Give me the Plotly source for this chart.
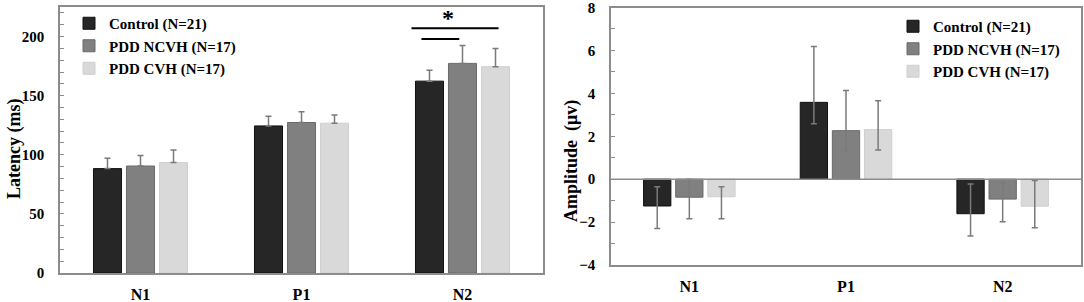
import plotly.graph_objects as go

categories = ["N1", "P1", "N2"]
groups = ["Control (N=21)", "PDD NCVH (N=17)", "PDD CVH (N=17)"]
colors = ["#262626", "#808080", "#d9d9d9"]
edges = ["#111111", "#6a6a6a", "#cfcfcf"]

# Latency (ms)
lat_control = [88.3, 124.4, 162.3]
lat_ncvh = [90.5, 127.3, 177.3]
lat_cvh = [93.4, 126.7, 174.5]
lat_err_control = [8.7, 8.2, 9.3]
lat_err_ncvh = [8.8, 9.0, 15.2]
lat_err_cvh = [10.6, 7.0, 15.5]

# Amplitude (uV)
amp_control = [-1.25, 3.58, -1.61]
amp_ncvh = [-0.84, 2.26, -0.93]
amp_cvh = [-0.82, 2.31, -1.26]
amp_up_control = [0.9, 2.6, 1.39]
amp_dn_control = [1.05, 1.0, 1.04]
amp_up_ncvh = [0.84, 1.87, 0.76]
amp_dn_ncvh = [1.01, 0.94, 1.05]
amp_up_cvh = [0.47, 1.35, 1.2]
amp_dn_cvh = [1.03, 0.95, 1.0]

lat_vals = [lat_control, lat_ncvh, lat_cvh]
lat_errs = [lat_err_control, lat_err_ncvh, lat_err_cvh]
amp_vals = [amp_control, amp_ncvh, amp_cvh]
amp_up = [amp_up_control, amp_up_ncvh, amp_up_cvh]
amp_dn = [amp_dn_control, amp_dn_ncvh, amp_dn_cvh]

FONT = "Liberation Serif"
ERRC = "#7a7a7a"
AXC = "#8c8c8c"

fig = go.Figure()
for i in range(3):
    fig.add_trace(go.Bar(
        x=categories, y=lat_vals[i], name=groups[i],
        marker=dict(color=colors[i], line=dict(color=edges[i], width=1)),
        error_y=dict(type="data", array=lat_errs[i], arrayminus=[0, 0, 0],
                     color=ERRC, thickness=1.5, width=3),
        xaxis="x", yaxis="y", legend="legend", showlegend=True,
    ))
for i in range(3):
    fig.add_trace(go.Bar(
        x=categories, y=amp_vals[i], name=groups[i],
        marker=dict(color=colors[i], line=dict(color=edges[i], width=1)),
        error_y=dict(type="data", array=amp_up[i], arrayminus=amp_dn[i],
                     color=ERRC, thickness=1.5, width=3),
        xaxis="x2", yaxis="y2", legend="legend2", showlegend=True,
    ))

W, H = 1084, 302
axis_common = dict(showline=True, linecolor=AXC, linewidth=1.5, mirror=True,
                   showgrid=False, zeroline=False, automargin=False,
                   ticklabeloverflow="allow")
ytick_font = dict(family=FONT, size=15, color="black", weight="bold")
xtick_font = dict(family=FONT, size=16, color="black", weight="bold")
title_font = dict(family=FONT, size=18, color="black", weight="bold")
legend_font = dict(family=FONT, size=15, color="black", weight="bold")

fig.update_layout(
    template="none",
    width=W, height=H,
    margin=dict(l=0, r=0, t=0, b=0, autoexpand=False),
    paper_bgcolor="white", plot_bgcolor="white",
    barmode="group", bargap=0.385, bargroupgap=0.15,
    font=dict(family=FONT, size=16, color="black"),
    xaxis=dict(domain=[60 / W, 543 / W], anchor="y", ticks="",
               ticklabelstandoff=6, tickfont=xtick_font, **axis_common),
    yaxis=dict(domain=[(H - 273) / H, (H - 7) / H], anchor="x", range=[0, 225],
               tickvals=[0, 50, 100, 150, 200], ticks="inside", ticklen=4,
               tickcolor=AXC, ticklabelstandoff=11, tickfont=ytick_font,
               minor=dict(dtick=10, ticks="inside", ticklen=4, tickcolor=AXC),
               **axis_common),
    xaxis2=dict(domain=[611 / W, 1081 / W], anchor="y2", ticks="",
                ticklabelstandoff=6, tickfont=xtick_font, **axis_common),
    yaxis2=dict(domain=[(H - 265) / H, (H - 7.5) / H], anchor="x2", range=[-4, 8],
                tickvals=[-4, -2, 0, 2, 4, 6, 8], ticks="inside", ticklen=4,
                tickcolor=AXC, ticklabelstandoff=11, tickfont=ytick_font,
                minor=dict(dtick=1, ticks="inside", ticklen=4, tickcolor=AXC),
                **axis_common),
    legend=dict(x=69 / W, y=1 - 7 / H, xanchor="left", yanchor="top",
                bgcolor="rgba(0,0,0,0)", tracegroupgap=0, font=legend_font),
    legend2=dict(x=893 / W, y=1 - 10 / H, xanchor="left", yanchor="top",
                 bgcolor="rgba(0,0,0,0)", tracegroupgap=0, font=legend_font),
)

# axis titles
fig.add_annotation(text="Latency (ms)", textangle=-90, xref="paper", yref="paper",
                   x=14 / W, y=1 - 149 / H, xanchor="center", yanchor="middle",
                   showarrow=False, font=title_font)
fig.add_annotation(text="Amplitude  (μv)", textangle=-90, xref="paper", yref="paper",
                   x=572 / W, y=1 - 161 / H, xanchor="center", yanchor="middle",
                   showarrow=False, font=title_font)

# zero line on right chart
fig.add_shape(type="line", xref="x2 domain", yref="y2", x0=0, x1=1, y0=0, y1=0,
              line=dict(color=AXC, width=1.5))

# significance markers (N2 latency)
fig.add_shape(type="line", xref="x", yref="y", x0=1.683, x1=2.224, y0=207, y1=207,
              line=dict(color="black", width=2))
fig.add_shape(type="line", xref="x", yref="y", x0=1.745, x1=1.98, y0=198, y1=198,
              line=dict(color="black", width=2))
fig.add_annotation(x=1.907, y=216, xref="x", yref="y", text="*", showarrow=False,
                   font=dict(family=FONT, size=24, color="black", weight="bold"))

fig.write_html("out.html", config={"displayModeBar": False},
               post_script="document.body.style.margin='0px';")
